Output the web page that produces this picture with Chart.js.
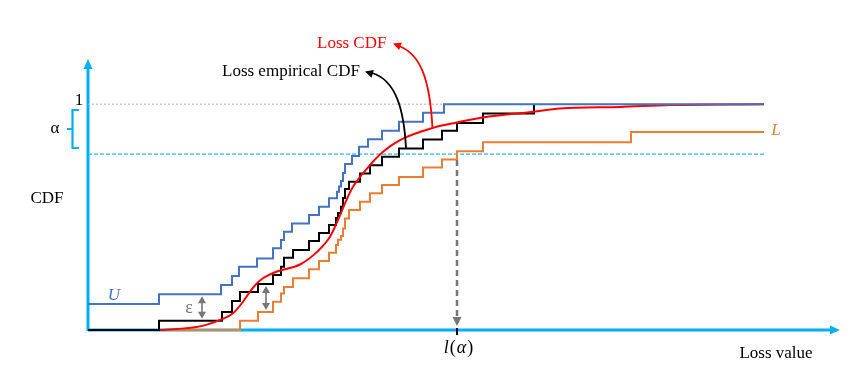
<!DOCTYPE html>
<html>
<head>
<meta charset="utf-8">
<script src="https://cdn.jsdelivr.net/npm/chart.js@4.4.1/dist/chart.umd.min.js"></script>
<style>
html, body { margin: 0; padding: 0; background: #fff; }
#wrap { width: 864px; height: 372px; }
</style>
</head>
<body>
<div id="wrap"><canvas id="cdfChart"></canvas></div>
<script>
// empirical CDF: jump locations (loss value) and level after each jump
const empX = [0.71, 1.34, 1.44, 1.52, 1.70, 1.85, 1.93, 1.96, 2.05, 2.21, 2.31, 2.41, 2.48, 2.50, 2.53, 2.55, 2.57, 2.61, 2.72, 2.82, 2.94, 3.11, 3.35, 3.54, 3.69, 3.95, 4.46];
const empY = [0.041, 0.080, 0.128, 0.168, 0.204, 0.243, 0.280, 0.320, 0.354, 0.394, 0.430, 0.465, 0.496, 0.518, 0.546, 0.584, 0.624, 0.656, 0.693, 0.730, 0.767, 0.804, 0.844, 0.882, 0.917, 0.959, 1.0];

// upper band U
const upperStart = 0.115;
const upperX = [0.71, 1.33, 1.44, 1.51, 1.69, 1.85, 1.93, 1.96, 2.04, 2.21, 2.31, 2.41, 2.49, 2.51, 2.53, 2.55, 2.57, 2.64, 2.71, 2.80, 2.94, 3.11, 3.35, 3.56];
const upperY = [0.158, 0.199, 0.239, 0.280, 0.317, 0.362, 0.398, 0.435, 0.472, 0.509, 0.546, 0.583, 0.612, 0.635, 0.660, 0.695, 0.735, 0.770, 0.811, 0.845, 0.882, 0.922, 0.962, 1.0];

// lower band L
const lowerX = [1.52, 1.70, 1.85, 1.93, 1.96, 2.05, 2.21, 2.31, 2.41, 2.48, 2.50, 2.53, 2.55, 2.57, 2.61, 2.72, 2.82, 2.94, 3.11, 3.35, 3.54, 3.69, 3.95, 5.43];
const lowerY = [0.041, 0.080, 0.125, 0.162, 0.190, 0.229, 0.269, 0.305, 0.342, 0.376, 0.400, 0.416, 0.450, 0.494, 0.531, 0.568, 0.605, 0.642, 0.678, 0.720, 0.755, 0.792, 0.831, 0.877];

// true loss CDF (smooth)
const cdfX = [0.72, 1.12, 1.34, 1.45, 1.55, 1.62, 1.69, 1.75, 1.89, 2.12, 2.29, 2.42, 2.50, 2.57, 2.65, 2.79, 2.95, 3.12, 3.45, 3.69, 3.95, 4.45, 4.72, 5.32, 5.82, 6.76];
const cdfY = [0, 0.016, 0.048, 0.074, 0.125, 0.170, 0.207, 0.229, 0.259, 0.290, 0.346, 0.413, 0.487, 0.561, 0.634, 0.715, 0.789, 0.841, 0.895, 0.919, 0.941, 0.966, 0.981, 0.988, 0.996, 1.0];

const xEnd = 6.76;
const oneMinusAlpha = 0.779;
const lossAlpha = 3.69;
const epsAt = [1.14, 1.78];

const CYAN = '#00B0F0';
const SERIF = "'Liberation Serif', 'Times New Roman', serif";

function steps(xs, ys, y0, extendTo) {
    const pts = [{ x: 0, y: y0 }];
    xs.forEach((x, i) => pts.push({ x: x, y: ys[i] }));
    if (extendTo) pts.push({ x: extendTo, y: ys[ys.length - 1] });
    return pts;
}

function levelAt(xs, ys, y0, x) {
    let v = y0;
    xs.forEach((xx, i) => { if (xx <= x) v = ys[i]; });
    return v;
}

function head(ctx, x, y, ang, len, half, color) {
    ctx.save();
    ctx.translate(x, y);
    ctx.rotate(ang);
    ctx.fillStyle = color;
    ctx.beginPath();
    ctx.moveTo(0, 0);
    ctx.lineTo(-len, -half);
    ctx.lineTo(-len, half);
    ctx.closePath();
    ctx.fill();
    ctx.restore();
}

const decorations = {
    id: 'decorations',
    beforeDatasetsDraw(chart) {
        const ctx = chart.ctx;
        const xs = chart.scales.x, ys = chart.scales.y;
        const x0 = xs.getPixelForValue(0), y0 = ys.getPixelForValue(0);
        const xTip = xs.getPixelForValue(xs.max), yTip = ys.getPixelForValue(ys.max);
        ctx.save();
        ctx.strokeStyle = CYAN;
        ctx.lineWidth = 3;
        ctx.beginPath();
        ctx.moveTo(x0, y0);
        ctx.lineTo(xTip - 8, y0);
        ctx.moveTo(x0, y0 + 1);
        ctx.lineTo(x0, yTip + 8);
        ctx.stroke();
        head(ctx, xTip, y0, 0, 10, 4.5, CYAN);
        head(ctx, x0, yTip, -Math.PI / 2, 10, 4.5, CYAN);
        ctx.restore();
    },
    afterDatasetsDraw(chart) {
        const ctx = chart.ctx;
        const xs = chart.scales.x, ys = chart.scales.y;
        const X = v => xs.getPixelForValue(v), Y = v => ys.getPixelForValue(v);
        ctx.save();

        // l(alpha) dashed arrow
        const la = X(lossAlpha);
        ctx.strokeStyle = '#767676';
        ctx.lineWidth = 2.5;
        ctx.setLineDash([6, 4]);
        ctx.beginPath();
        ctx.moveTo(la, Y(oneMinusAlpha) + 6);
        ctx.lineTo(la, Y(0) - 12);
        ctx.stroke();
        ctx.setLineDash([]);
        head(ctx, la, Y(0) - 4, Math.PI / 2, 9, 4.5, '#767676');
        ctx.strokeStyle = '#000';
        ctx.lineWidth = 2;
        ctx.beginPath();
        ctx.moveTo(la, Y(0) - 2);
        ctx.lineTo(la, Y(0) + 5);
        ctx.stroke();

        // epsilon arrows
        const bands = [
            [levelAt(empX, empY, 0, epsAt[0]), levelAt(upperX, upperY, upperStart, epsAt[0])],
            [levelAt(lowerX, lowerY, 0, epsAt[1]), levelAt(empX, empY, 0, epsAt[1])]
        ];
        bands.forEach((b, i) => {
            const px = X(epsAt[i]);
            const yb = Y(b[0]) - 2, yt = Y(b[1]) + 2;
            ctx.strokeStyle = '#767676';
            ctx.lineWidth = 1.6;
            ctx.beginPath();
            ctx.moveTo(px, yt + 5);
            ctx.lineTo(px, yb - 5);
            ctx.stroke();
            head(ctx, px, yt, -Math.PI / 2, 7, 4, '#767676');
            head(ctx, px, yb, Math.PI / 2, 7, 4, '#767676');
        });

        // curved annotation arrows
        ctx.lineWidth = 1.8;
        ctx.strokeStyle = '#000';
        ctx.beginPath();
        ctx.moveTo(406, 148);
        ctx.bezierCurveTo(404, 110, 396, 80, 372, 73);
        ctx.stroke();
        head(ctx, 365, 71.5, Math.atan2(-3, -10), 8, 4, '#000');

        ctx.strokeStyle = '#FF0000';
        ctx.beginPath();
        ctx.moveTo(432.5, 129);
        ctx.bezierCurveTo(430, 78, 420, 54, 399, 46);
        ctx.stroke();
        head(ctx, 393, 43.5, Math.atan2(-3, -8), 8, 4, '#FF0000');

        // alpha bracket
        ctx.strokeStyle = CYAN;
        ctx.lineWidth = 2.2;
        ctx.beginPath();
        ctx.moveTo(79, 110);
        ctx.lineTo(72.5, 110);
        ctx.lineTo(72.5, 148);
        ctx.lineTo(79, 148);
        ctx.moveTo(72.5, 129);
        ctx.lineTo(67, 129);
        ctx.stroke();

        // texts
        ctx.textBaseline = 'middle';
        ctx.textAlign = 'center';
        ctx.fillStyle = '#000';
        ctx.font = '17px ' + SERIF;
        ctx.fillText('1', 79, Y(1) - 4);
        ctx.fillText('\u03B1', 55, 129);
        ctx.fillText('CDF', 47, 199);
        ctx.fillText('Loss value', 776, 354);
        ctx.textAlign = 'left';
        ctx.fillText('Loss empirical CDF', 222, 72);
        ctx.fillStyle = '#FF0000';
        ctx.fillText('Loss CDF', 317, 44);

        ctx.font = 'italic 17px ' + SERIF;
        ctx.fillStyle = '#4472C4';
        ctx.textAlign = 'center';
        ctx.fillText('U', 114, 296);
        ctx.fillStyle = '#ED7D31';
        ctx.fillText('L', 776, 131);
        ctx.font = '18px ' + SERIF;
        ctx.fillStyle = '#777';
        ctx.fillText('\u03B5', 189, 308);

        // l(alpha) label
        ctx.fillStyle = '#000';
        ctx.textAlign = 'left';
        const parts = [['l', 'italic '], ['(', ''], ['\u03B1', 'italic '], [')', '']];
        let w = 0;
        parts.forEach(p => { ctx.font = p[1] + '18px ' + SERIF; w += ctx.measureText(p[0]).width + 1; });
        let cx = la + 2 - w / 2;
        parts.forEach(p => {
            ctx.font = p[1] + '18px ' + SERIF;
            ctx.fillText(p[0], cx, 348);
            cx += ctx.measureText(p[0]).width + 1;
        });
        ctx.restore();
    }
};

const stepStyle = { stepped: 'before', pointRadius: 0, borderWidth: 2, fill: false, clip: false };

new Chart(document.getElementById('cdfChart'), {
    type: 'line',
    data: {
        datasets: [
            Object.assign({ label: 'U', data: steps(upperX, upperY, upperStart, xEnd), borderColor: '#4472C4' }, stepStyle),
            { label: 'Loss CDF', data: cdfX.map((x, i) => ({ x: x, y: cdfY[i] })), borderColor: '#FF0000',
              borderWidth: 2, pointRadius: 0, cubicInterpolationMode: 'monotone', fill: false, clip: false },
            Object.assign({ label: 'Loss empirical CDF', data: steps(empX, empY, 0, null), borderColor: '#000000' }, stepStyle),
            Object.assign({ label: 'L', data: steps(lowerX, lowerY, 0, xEnd), borderColor: '#ED7D31' }, stepStyle),
            { label: 'one', data: [{ x: 0, y: 1 }, { x: xEnd, y: 1 }], borderColor: '#B4B4B4',
              borderWidth: 1, borderDash: [2, 2], pointRadius: 0, clip: false },
            { label: '1-alpha', data: [{ x: 0, y: oneMinusAlpha }, { x: xEnd, y: oneMinusAlpha }], borderColor: '#2FB8EE',
              borderWidth: 1.3, borderDash: [4, 2], pointRadius: 0, clip: false }
        ]
    },
    options: {
        responsive: true,
        maintainAspectRatio: false,
        animation: false,
        layout: { padding: { left: 88, right: 24, top: 59, bottom: 42 } },
        scales: {
            x: { type: 'linear', min: 0, max: 7.52, display: false },
            y: { min: 0, max: 1.2, display: false }
        },
        plugins: {
            legend: { display: false },
            tooltip: { enabled: false }
        }
    },
    plugins: [decorations]
});
</script>
</body>
</html>
